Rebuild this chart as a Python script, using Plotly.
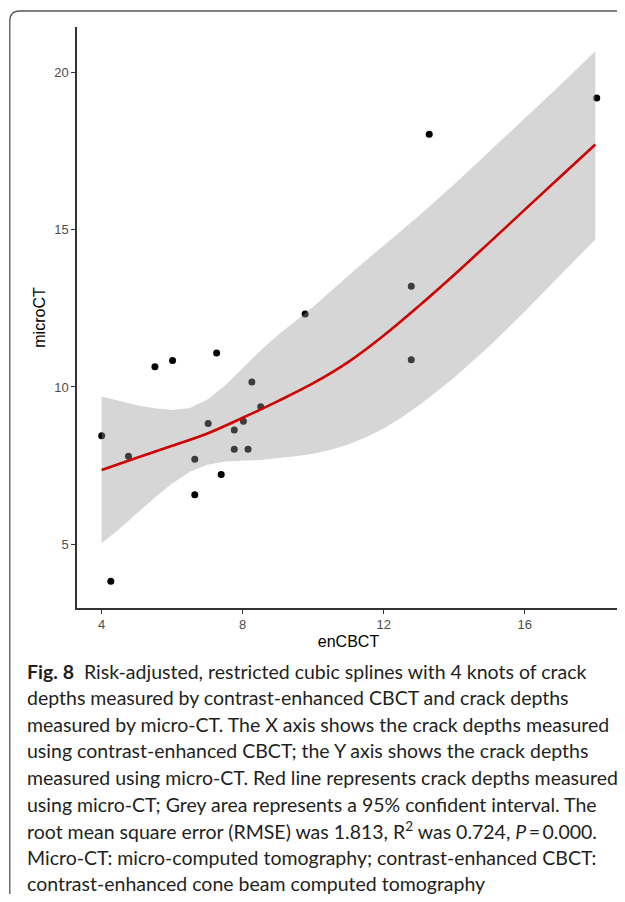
import plotly.graph_objects as go

# ---- data ----
pt_x = [4.00, 4.26, 4.76, 5.51, 6.01, 7.26, 6.64, 6.64, 7.02, 7.39, 7.76, 7.76,
        8.02, 8.15, 8.26, 8.51, 9.77, 12.78, 12.78, 13.29, 18.04]
pt_y = [8.45, 3.82, 7.80, 10.64, 10.84, 11.08, 7.70, 6.57, 8.84, 7.22, 8.63, 8.02,
        8.91, 8.02, 10.16, 9.37, 12.32, 13.20, 10.87, 18.04, 19.19]

fit_x = [4, 5, 6, 7, 8, 9, 10, 11, 12, 13, 14, 15, 16, 17, 18]
fit_y = [7.36, 7.75, 8.13, 8.52, 9.02, 9.55, 10.12, 10.80, 11.64, 12.58, 13.57,
         14.60, 15.64, 16.68, 17.71]

ci_x = [4, 4.5, 5, 5.5, 6, 6.5, 7, 7.5, 8, 8.5, 9, 9.5, 10, 10.5, 11, 11.5, 12,
        12.5, 13, 13.5, 14, 15, 16, 17, 18]
ci_upper = [9.70, 9.55, 9.42, 9.32, 9.27, 9.33, 9.60, 10.05, 10.60, 11.15, 11.65,
            12.10, 12.55, 13.05, 13.55, 14.03, 14.50, 14.97, 15.45, 15.95, 16.45,
            17.50, 18.55, 19.60, 20.69]
ci_lower = [5.03, 5.48, 5.98, 6.48, 6.93, 7.30, 7.53, 7.63, 7.65, 7.68, 7.74,
            7.80, 7.88, 8.00, 8.17, 8.40, 8.68, 9.03, 9.42, 9.85, 10.30, 11.30,
            12.40, 13.55, 14.69]

x_ticks = [4, 8, 12, 16]
y_ticks = [5, 10, 15, 20]
x_title = "enCBCT"
y_title = "microCT"

caption_lines = [
    "<b>Fig. 8</b>  Risk-adjusted, restricted cubic splines with 4 knots of crack",
    "depths measured by contrast-enhanced CBCT and crack depths",
    "measured by micro-CT. The X axis shows the crack depths measured",
    "using contrast-enhanced CBCT; the Y axis shows the crack depths",
    "measured using micro-CT. Red line represents crack depths measured",
    "using micro-CT; Grey area represents a 95% confident interval. The",
    "root mean square error (RMSE) was 1.813, R<sup>2</sup> was 0.724, <i>P</i>\u2009=\u20090.000.",
    "Micro-CT: micro-computed tomography; contrast-enhanced CBCT:",
    "contrast-enhanced cone beam computed tomography",
]

# ---- layout geometry (page pixels; the page body adds an 8px offset) ----
OFF = 8
W, H = 625 - OFF, 902 - 2 * OFF
plot_left, plot_right, plot_top, plot_bottom = 77, 620, 27, 608
L = plot_left - OFF
T = plot_top - OFF
R = W - (plot_right - OFF)
B = H - (plot_bottom - OFF)
pw = plot_right - plot_left
ph = plot_bottom - plot_top


def px(xp):
    return (xp - plot_left) / pw


def py(yp):
    return (plot_bottom - yp) / ph


fig = go.Figure()

fig.add_trace(go.Scatter(
    x=pt_x, y=pt_y, mode="markers",
    marker=dict(size=7, color="black", line=dict(width=0)),
    hoverinfo="skip", showlegend=False))

fig.add_trace(go.Scatter(
    x=ci_x + ci_x[::-1], y=ci_upper + ci_lower[::-1],
    mode="lines", fill="toself", fillcolor="rgba(153,153,153,0.4)",
    line=dict(width=0), hoverinfo="skip", showlegend=False))

fig.add_trace(go.Scatter(
    x=fit_x, y=fit_y, mode="lines",
    line=dict(color="#d00000", width=2.6, shape="spline"),
    hoverinfo="skip", showlegend=False))

axis_common = dict(
    showgrid=False, zeroline=False, showline=True, linecolor="#333333",
    linewidth=1.5, ticks="outside", ticklen=4, tickwidth=1.2, tickcolor="#333333",
    tickfont=dict(family="Liberation Sans, Arial, sans-serif", size=13, color="#4d4d4d"),
)

fig.update_layout(
    width=W, height=H, autosize=False,
    margin=dict(l=L, r=R, t=T, b=B, pad=0),
    plot_bgcolor="white", paper_bgcolor="white",
    xaxis=dict(range=[3.3, 18.7], tickvals=x_ticks, **axis_common,
               title=dict(text=x_title, standoff=4,
                          font=dict(family="Liberation Sans, Arial, sans-serif", size=16, color="black"))),
    yaxis=dict(range=[2.97, 21.45], tickvals=y_ticks, **axis_common,
               title=dict(text=y_title, standoff=5,
                          font=dict(family="Liberation Sans, Arial, sans-serif", size=16, color="black"))),
)

# caption lines
line_y0 = 671
line_gap = 26.6
for i, txt in enumerate(caption_lines):
    fig.add_annotation(
        text=txt, xref="paper", yref="paper",
        x=px(25), y=py(line_y0 + i * line_gap),
        xanchor="left", yanchor="middle", showarrow=False,
        font=dict(family="Lato, Noto Sans, sans-serif", size=19.5, color="#231f20"))

# figure frame (rounded top-left corner)
x0, xr = px(9.8), px(700)
yt, yb = py(11), py(1000)
rx, ry = 10 / pw, 10 / ph
fig.add_shape(
    type="path", xref="paper", yref="paper",
    path=f"M {x0},{yb} L {x0},{yt - ry} Q {x0},{yt} {x0 + rx},{yt} L {xr},{yt}",
    line=dict(color="#555555", width=1.3))

fig.write_html("out.html")
